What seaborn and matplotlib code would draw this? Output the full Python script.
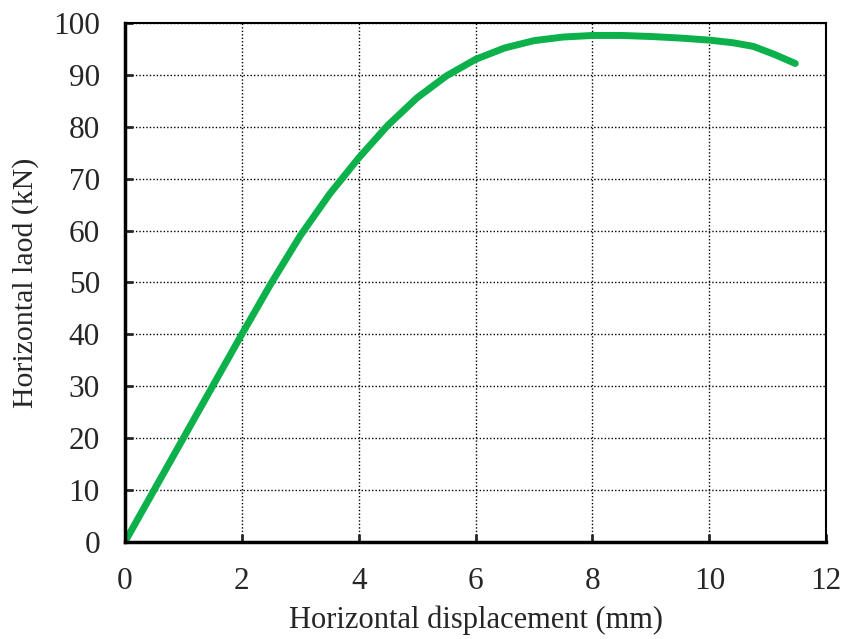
import matplotlib
matplotlib.use("Agg")
import matplotlib.pyplot as plt
import seaborn as sns
import pandas as pd

displacement = [0, 0.5, 1, 1.5, 2, 2.5, 3, 3.5, 4, 4.5, 5, 5.5, 6, 6.5, 7, 7.5, 8, 8.5, 9, 9.5, 10, 10.4, 10.75, 11.1, 11.47]
load = [0, 10, 20, 30, 40, 49.8, 59, 67, 74, 80.3, 85.6, 89.8, 93, 95.2, 96.6, 97.3, 97.6, 97.6, 97.4, 97.1, 96.7, 96.2, 95.5, 94, 92.2]

x_ticks = [0, 2, 4, 6, 8, 10, 12]
y_ticks = [0, 10, 20, 30, 40, 50, 60, 70, 80, 90, 100]

sns.set_style("white")
plt.rcParams['font.family'] = ['Liberation Serif', 'DejaVu Serif']

df = pd.DataFrame({"x": displacement, "y": load})
fig = plt.figure(figsize=(8.44, 6.39), dpi=100)
ax = fig.add_axes([0.148, 0.152, 0.831, 0.812])
sns.lineplot(data=df, x="x", y="y", ax=ax, color="#0db14b", linewidth=5,
             solid_capstyle="round", solid_joinstyle="round")

ax.set_xlim(0, 12)
ax.set_ylim(0, 100)
ax.set_xticks(x_ticks)
ax.set_yticks(y_ticks)
ax.grid(True, color="black", linestyle=(0, (1, 1.5)), linewidth=1.0)
ax.set_axisbelow(True)
ax.tick_params(axis="both", direction="in", length=6, width=2, labelsize=22.5, pad=18,
               top=False, right=False, left=True, bottom=True)
ax.set_xlabel("Horizontal displacement (mm)", fontsize=22, labelpad=7)
ax.set_ylabel("Horizontal laod (kN)", fontsize=21.5, labelpad=10)
for s in ["left", "bottom"]:
    ax.spines[s].set_linewidth(2.5)
    ax.spines[s].set_color("black")
for s in ["top", "right"]:
    ax.spines[s].set_linewidth(1.5)
    ax.spines[s].set_color("black")

fig.savefig("out.png", dpi=100)
